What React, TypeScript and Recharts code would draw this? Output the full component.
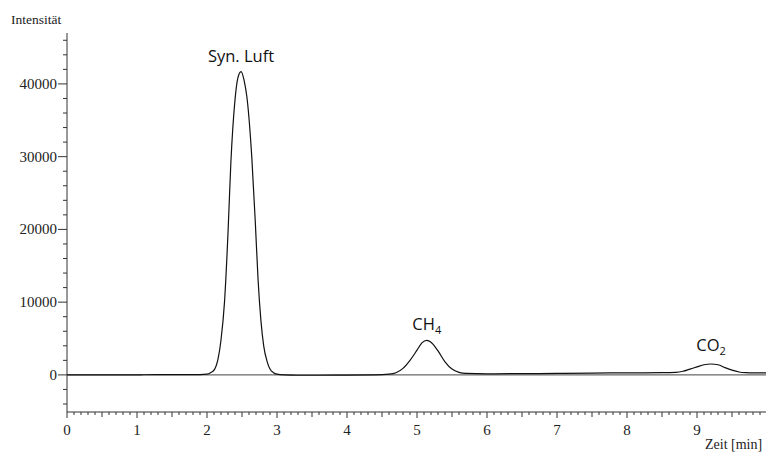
import React from 'react';
import {
  LineChart,
  Line,
  XAxis,
  YAxis,
  ReferenceLine,
  ReferenceDot,
} from 'recharts';

// chromatogram trace (time in min, intensity)
const times = [
  0, 0.5, 1.0, 1.1, 1.5, 1.9, 2.0, 2.05, 2.11, 2.16, 2.2, 2.25, 2.3, 2.34, 2.4,
  2.44, 2.486, 2.53, 2.57, 2.64, 2.69, 2.73, 2.77, 2.81, 2.86, 2.9, 2.95, 3.0,
  3.1, 3.3, 3.6, 4.0, 4.4, 4.6, 4.7, 4.8, 4.9, 5.0, 5.07, 5.14, 5.2, 5.3, 5.4,
  5.5, 5.6, 5.7, 6.0, 6.5, 7.0, 7.5, 8.0, 8.5, 8.7, 8.8, 8.9, 9.0, 9.1, 9.2,
  9.3, 9.4, 9.5, 9.6, 9.7, 9.8, 10.0,
];
const intensity = [
  0, 0, 0, 20, 30, 40, 100, 300, 800, 2300, 4800, 10000, 19500, 29000, 37800,
  40800, 41700, 40500, 38200, 29900, 21000, 13000, 7500, 4000, 1800, 800, 300,
  100, 0, -50, -50, -30, 0, 100, 300, 900, 2000, 3400, 4400, 4750, 4500, 3300,
  1800, 800, 350, 200, 150, 180, 200, 250, 280, 300, 350, 500, 800, 1100, 1400,
  1500, 1400, 1000, 650, 400, 300, 270, 270,
];

const peakNames = ['Syn. Luft', 'CH', 'CO'];
const peakSubs = ['', '4', '2'];
const peakTimes = [2.486, 5.14, 9.2];
const peakHeights = [41700, 4750, 1500];

const xMajorTicks = [0, 1, 2, 3, 4, 5, 6, 7, 8, 9];
const yMajorTicks = [0, 10000, 20000, 30000, 40000];

const data = times.map((t, i) => ({ t, v: intensity[i] }));

// minor ticks: every 0.1 min on x, every 2000 on y
const xTicks: number[] = [];
for (let i = 0; i <= 99; i++) xTicks.push(i / 10);
const yTicks: number[] = [];
for (let v = -4000; v <= 46000; v += 2000) yTicks.push(v);

const axisColor = '#333';
const serif = '"Liberation Serif", "Times New Roman", serif';
const sans = '"Open Sans", "Noto Sans", sans-serif';

const XTick = (props: any) => {
  const { x, y, payload } = props;
  const v = payload.value;
  const tenths = Math.round(v * 10);
  const major = tenths % 10 === 0;
  const half = tenths % 5 === 0;
  const len = major ? 6 : half ? 5 : 3;
  return (
    <g>
      <line x1={x} x2={x} y1={y} y2={y + len} stroke={axisColor} strokeWidth={1} />
      {major && xMajorTicks.includes(tenths / 10) && (
        <text x={x} y={y + 23} textAnchor="middle" fontFamily={serif} fontSize={15} fill="#222">
          {tenths / 10}
        </text>
      )}
    </g>
  );
};

const YTick = (props: any) => {
  const { x, y, payload } = props;
  const v = payload.value;
  const major = yMajorTicks.includes(v);
  return (
    <g>
      <line x1={x - (major ? 9 : 4)} x2={x} y1={y} y2={y} stroke={axisColor} strokeWidth={1} />
      {major && (
        <text x={x - 10} y={y + 5} textAnchor="end" fontFamily={serif} fontSize={15} fill="#222">
          {v}
        </text>
      )}
    </g>
  );
};

const PeakLabel = (props: any) => {
  const { viewBox, name, sub, dy } = props;
  const cx = viewBox.x + viewBox.width / 2;
  const cy = viewBox.y + viewBox.height / 2;
  return (
    <text x={cx} y={cy - dy} textAnchor="middle" fontFamily={sans} fontSize={16.5} fill="#111">
      {name}
      {sub && (
        <tspan fontSize={11} dy={4}>
          {sub}
        </tspan>
      )}
    </text>
  );
};

const labelOffsets = [10, 10, 13];

export default function App() {
  return (
    <div
      style={{
        position: 'fixed',
        left: 0,
        top: 0,
        width: 766,
        height: 453,
        overflow: 'hidden',
        background: '#fff',
      }}
    >
      <div
        style={{
          position: 'absolute',
          left: 11,
          top: 12,
          fontFamily: serif,
          fontSize: 13.5,
          color: '#222',
        }}
      >
        Intensität
      </div>
      <div
        style={{
          position: 'absolute',
          left: 705,
          top: 437,
          fontFamily: serif,
          fontSize: 14,
          color: '#222',
          whiteSpace: 'nowrap',
        }}
      >
        Zeit [min]
      </div>
      <LineChart
        width={780}
        height={453}
        data={data}
        margin={{ top: 33, right: 13, left: 0, bottom: 11 }}
      >
        <XAxis
          dataKey="t"
          type="number"
          domain={[0, 10]}
          ticks={xTicks}
          interval={0}
          tickSize={0}
          tickMargin={0}
          height={30}
          tick={<XTick />}
          axisLine={{ stroke: axisColor }}
          allowDataOverflow
        />
        <YAxis
          type="number"
          domain={[-5100, 47000]}
          ticks={yTicks}
          interval={0}
          tickSize={0}
          tickMargin={0}
          width={67}
          tick={<YTick />}
          axisLine={{ stroke: axisColor }}
          allowDataOverflow
        />
        <ReferenceLine y={0} stroke="#444" strokeWidth={1} />
        <Line
          type="monotone"
          dataKey="v"
          stroke="#111"
          strokeWidth={1.2}
          dot={false}
          isAnimationActive={false}
        />
        {peakNames.map((name, i) => (
          <ReferenceDot
            key={name}
            x={peakTimes[i]}
            y={peakHeights[i]}
            r={0}
            fill="none"
            stroke="none"
            label={<PeakLabel name={name} sub={peakSubs[i]} dy={labelOffsets[i]} />}
          />
        ))}
      </LineChart>
    </div>
  );
}
